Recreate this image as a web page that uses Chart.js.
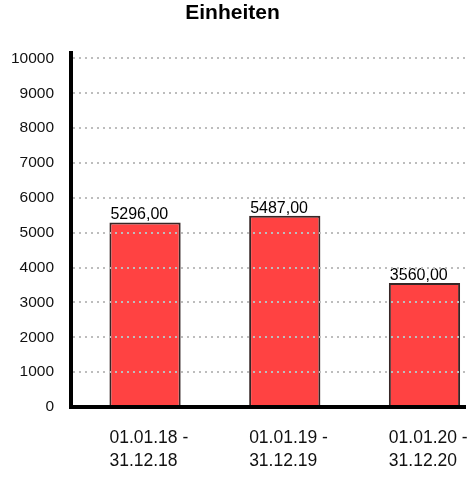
<!DOCTYPE html>
<html>
<head>
<meta charset="utf-8">
<script src="https://cdn.jsdelivr.net/npm/chart.js@4/dist/chart.umd.min.js"></script>
<style>
  html, body { margin: 0; padding: 0; background: #fff; }
  #wrap { width: 475px; height: 477px; }
</style>
</head>
<body>
<div id="wrap"><canvas id="unitsChart"></canvas></div>
<script>
const periods = [
  ['01.01.18 -', '31.12.18'],
  ['01.01.19 -', '31.12.19'],
  ['01.01.20 -', '31.12.20']
];
const units = [5296, 5487, 3560];
const yTicks = [0, 1000, 2000, 3000, 4000, 5000, 6000, 7000, 8000, 9000, 10000];

const fmt = v => v.toFixed(2).replace('.', ',');
const BAR_PCT = 0.51;

// writes the value above each bar, starting at the bar's left edge
const valueLabels = {
  id: 'valueLabels',
  afterDatasetsDraw(chart) {
    const ctx = chart.ctx;
    const meta = chart.getDatasetMeta(0);
    ctx.save();
    ctx.font = '16px "Liberation Sans", Arial, sans-serif';
    ctx.fillStyle = '#000';
    ctx.textAlign = 'left';
    ctx.textBaseline = 'alphabetic';
    meta.data.forEach((bar, i) => {
      ctx.fillText(fmt(units[i]), bar.x - bar.width / 2 + 1, bar.y - 3);
    });
    ctx.restore();
  }
};

new Chart(document.getElementById('unitsChart'), {
  type: 'bar',
  data: {
    datasets: [{
      label: 'Einheiten',
      data: units.map((u, i) => ({ x: i, y: u })),
      backgroundColor: '#ff4242',
      borderColor: '#362626',
      borderWidth: 2,
      categoryPercentage: 1,
      barPercentage: BAR_PCT
    }]
  },
  options: {
    responsive: true,
    maintainAspectRatio: false,
    animation: false,
    layout: { padding: { right: 10 } },
    plugins: {
      legend: { display: false },
      tooltip: { enabled: false },
      title: {
        display: true,
        text: 'Einheiten',
        color: '#000',
        font: { family: '"Liberation Sans", Arial, sans-serif', size: 21, weight: 'bold', lineHeight: 1.2 },
        padding: { top: 1, bottom: 27 }
      }
    },
    scales: {
      x: {
        type: 'linear',
        min: -0.53,
        max: 2.29,
        offset: false,
        // period labels start at the left edge of their bar
        afterBuildTicks: s => { s.ticks = periods.map((_, i) => ({ value: i - BAR_PCT / 2 })); },
        afterFit: s => { s.height = 70; s.paddingLeft = 0; s.paddingRight = 0; },
        grid: { display: false, drawTicks: false, offset: false },
        border: { display: true, color: '#000', width: 4, z: 2 },
        ticks: {
          autoSkip: false,
          maxRotation: 0,
          align: 'start',
          padding: 19,
          color: '#111',
          font: { family: '"Liberation Sans", Arial, sans-serif', size: 17.5, lineHeight: 1.35 },
          callback: (v, i) => periods[i]
        }
      },
      y: {
        min: 0,
        // axis line runs a little past the top gridline
        max: 10150,
        afterBuildTicks: s => { s.ticks = yTicks.map(v => ({ value: v })); },
        afterFit: s => { s.width = 71; },
        // dotted horizontal grid, drawn over the bars
        grid: { color: '#bdbdbd', lineWidth: 2, drawTicks: false, z: 1 },
        border: { display: true, color: '#000', width: 4, dash: [2, 4], z: 2 },
        ticks: {
          padding: 17,
          color: '#111',
          font: { family: '"Liberation Sans", Arial, sans-serif', size: 15.5 },
          callback: v => String(v)
        }
      }
    }
  },
  plugins: [valueLabels]
});
</script>
</body>
</html>
